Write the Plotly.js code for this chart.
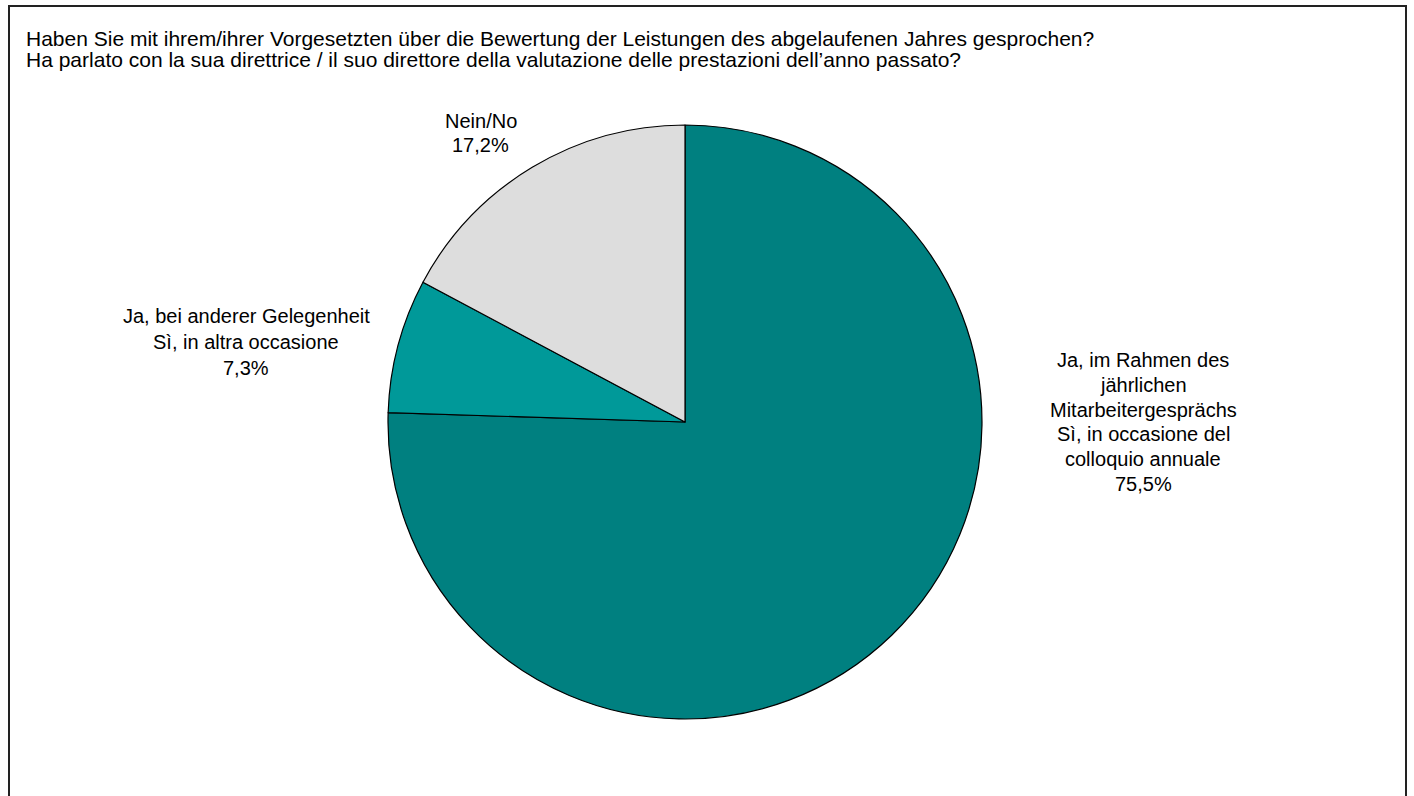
<!DOCTYPE html>
<html>
<head>
<meta charset="utf-8">
<script src="https://cdn.plot.ly/plotly-3.0.1.min.js"></script>
<style>
  html, body { margin: 0; padding: 0; background: #ffffff; }
  #chart { width: 1414px; height: 796px; }
</style>
</head>
<body>
<div id="chart"></div>
<script>
// ---- data ----
const titleLines = [
  "Haben Sie mit ihrem/ihrer Vorgesetzten über die Bewertung der Leistungen des abgelaufenen Jahres gesprochen?",
  "Ha parlato con la sua direttrice / il suo direttore della valutazione delle prestazioni dell’anno passato?"
];
const categories = [
  "Ja, im Rahmen des jährlichen Mitarbeitergesprächs / Sì, in occasione del colloquio annuale",
  "Ja, bei anderer Gelegenheit / Sì, in altra occasione",
  "Nein/No"
];
const categoryLines = [
  ["Ja, im Rahmen des", "jährlichen", "Mitarbeitergesprächs", "Sì, in occasione del", "colloquio annuale"],
  ["Ja, bei anderer Gelegenheit", "Sì, in altra occasione"],
  ["Nein/No"]
];
const values = [75.5, 7.3, 17.2];
const colors = ["#008080", "#009999", "#DDDDDD"];

// ---- layout helpers (pixel positions of text blocks) ----
const W = 1414, H = 796;
const px = x => x / W;
const py = y => 1 - y / H;
const FONT = 'Liberation Sans, Arial, sans-serif';
// first-line baseline and centre x for each label block, plus line step
const labelPos = [
  {cx: 1143, base: 367, step: 24.8},
  {cx: 246, base: 323, step: 25.8},
  {cx: 481, base: 128, step: 24}
];

const fmt = v => v.toFixed(1).replace('.', ',') + '%';

const annotations = [];
// title lines (left aligned)
titleLines.forEach((t, k) => {
  annotations.push({
    xref: 'paper', yref: 'paper',
    x: px(24), y: py(45.5 + k * 22 - 7.5),
    xanchor: 'left', yanchor: 'middle',
    text: t, showarrow: false,
    font: {family: FONT, size: 21, color: '#000000'}
  });
});
// slice labels
categoryLines.forEach((lines, i) => {
  const all = lines.concat([fmt(values[i])]);
  const p = labelPos[i];
  all.forEach((t, k) => {
    annotations.push({
      xref: 'paper', yref: 'paper',
      x: px(p.cx), y: py(p.base + k * p.step - 7),
      xanchor: 'center', yanchor: 'middle',
      text: t, showarrow: false,
      font: {family: FONT, size: 20, color: '#000000'}
    });
  });
});

const data = [{
  type: 'pie',
  labels: categories,
  values: values,
  sort: false,
  direction: 'clockwise',
  rotation: 0,
  marker: {colors: colors, line: {color: '#000000', width: 1.2}},
  textinfo: 'none',
  hoverinfo: 'label+percent',
  showlegend: false,
  domain: {x: [px(388), px(982)], y: [py(719), py(125)]}
}];

const layout = {
  width: W, height: H,
  margin: {l: 0, r: 0, t: 0, b: 0},
  paper_bgcolor: '#ffffff',
  showlegend: false,
  annotations: annotations,
  shapes: [{
    type: 'rect', xref: 'paper', yref: 'paper',
    x0: px(9), x1: px(1406), y0: -0.05, y1: py(6),
    line: {color: '#222222', width: 2}, fillcolor: 'rgba(0,0,0,0)'
  }]
};

Plotly.newPlot('chart', data, layout, {displayModeBar: false, staticPlot: true});
</script>
</body>
</html>
